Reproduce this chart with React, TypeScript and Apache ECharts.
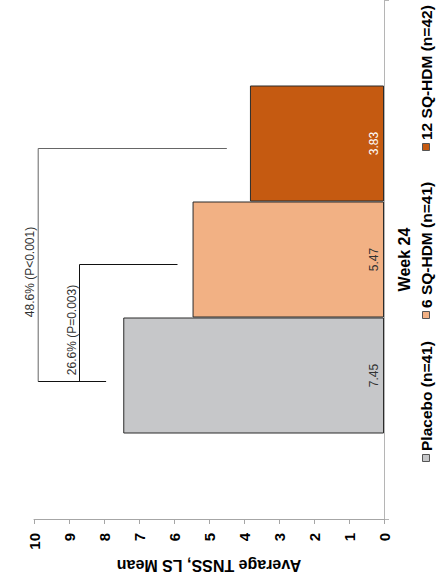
import React, { useEffect, useRef } from 'react';
import * as echarts from 'echarts';

// ---- data ----
const categories = ['Week 24'];
const groupNames = ['Placebo (n=41)', '6 SQ-HDM (n=41)', '12 SQ-HDM (n=42)'];
const lsMeans = [7.45, 5.47, 3.83];
const axisMin = 0;
const axisMax = 10;
const axisInterval = 1;
const axisTitle = 'Average TNSS, LS Mean';

// comparisons vs placebo (group index 0)
const comparisonLabels = ['26.6% (P=0.003)', '48.6% (P<0.001)'];
const comparisonTargets = [1, 2];
const bracketSpineValues = [8.7, 9.88];
const bracketTopEndValues = [5.9, 4.49];
const bracketBaseEndValue = 7.94;

// ---- styles ----
const barColors = ['#c6c7c9', '#f2b184', '#c55a11'];
const labelColors = ['#333333', '#333333', '#ffffff'];
const spineColors = ['#555555', '#666666'];
const FONT = '"Liberation Sans", Arial, Helvetica, sans-serif';
const legendItemY = [458, 315, 147];

export default function App() {
  const ref = useRef<HTMLDivElement>(null);

  useEffect(() => {
    document.body.style.margin = '0';
    document.body.style.overflow = 'hidden';
    const el = ref.current!;
    const chart = echarts.init(el, undefined, { renderer: 'svg' });

    const n = groupNames.length;
    // series are stacked top-to-bottom in series order; placebo must be at the bottom
    const order = groupNames.map((_, i) => n - 1 - i);
    const series = order.map((i) => ({
      type: 'bar',
      name: groupNames[i],
      data: [lsMeans[i]],
      barWidth: 116,
      barGap: '0%',
      itemStyle: { color: barColors[i], borderColor: '#2b2b2b', borderWidth: 1 },
      label: {
        show: true,
        position: 'insideRight',
        distance: 4,
        rotate: 90,
        align: 'center',
        verticalAlign: 'bottom',
        formatter: (p: any) => p.value.toFixed(2),
        color: labelColors[i],
        fontSize: 12,
        fontFamily: FONT,
      },
    }));

    chart.setOption({
      animation: false,
      textStyle: { fontFamily: FONT },
      grid: { left: 34, right: 52, top: -3, bottom: 62, containLabel: false },
      xAxis: {
        type: 'value',
        min: axisMin,
        max: axisMax,
        interval: axisInterval,
        inverse: true,
        position: 'bottom',
        axisLine: { show: true, lineStyle: { color: '#a6a6a6', width: 1 } },
        axisTick: { show: true, length: 5, lineStyle: { color: '#a6a6a6' } },
        splitLine: { show: false },
        axisLabel: {
          rotate: 90,
          margin: 14,
          color: '#000',
          fontWeight: 'bold',
          fontSize: 15,
          fontFamily: FONT,
        },
        name: axisTitle,
        nameLocation: 'middle',
        nameRotate: 180,
        nameGap: 35,
        nameTextStyle: { color: '#000', fontWeight: 'bold', fontSize: 16, fontFamily: FONT },
      },
      yAxis: {
        type: 'category',
        data: categories,
        position: 'right',
        axisLine: { show: true, lineStyle: { color: '#b5b5b5', width: 1 } },
        axisTick: { show: true, length: 5, lineStyle: { color: '#b5b5b5' } },
        axisLabel: {
          rotate: 90,
          margin: 12,
          color: '#000',
          fontWeight: 'bold',
          fontSize: 16,
          fontFamily: FONT,
        },
      },
      series,
    });

    // ---- brackets & legend (positioned from the chart's own layout) ----
    const model = (chart as any).getModel();
    const barCenterY = groupNames.map((_, i) => {
      const seriesIndex = order.indexOf(i);
      const lay = model.getSeriesByIndex(seriesIndex).getData().getItemLayout(0);
      return lay.y + lay.height / 2;
    });
    const px = (v: number) => chart.convertToPixel({ xAxisIndex: 0 }, v) as number;

    const graphics: any[] = [];
    const baseY = barCenterY[0] + 6;
    comparisonLabels.forEach((label, k) => {
      const topY = barCenterY[comparisonTargets[k]] + 5;
      const sx = px(bracketSpineValues[k]);
      graphics.push({
        type: 'polyline',
        shape: { points: [[px(bracketTopEndValues[k]), topY], [sx, topY], [sx, baseY]] },
        style: { stroke: k === 0 ? '#111' : spineColors[k], lineWidth: 1, fill: 'none' },
        silent: true,
      });
      graphics.push({
        type: 'text',
        x: sx - 8,
        y: (topY + baseY) / 2 + 7,
        rotation: Math.PI / 2,
        style: {
          text: label,
          align: 'center',
          verticalAlign: 'middle',
          fill: '#333',
          font: `12px ${FONT}`,
        },
        silent: true,
      });
    });
    const outerSpine = Math.max(...bracketSpineValues);
    graphics.push({
      type: 'line',
      shape: { x1: px(outerSpine), y1: baseY, x2: px(bracketBaseEndValue), y2: baseY },
      style: { stroke: '#111', lineWidth: 1 },
      silent: true,
    });

    groupNames.forEach((name, i) => {
      const y = legendItemY[i];
      graphics.push({
        type: 'rect',
        shape: { x: 422.5, y: y - 3.5, width: 7, height: 7 },
        style: { fill: barColors[i], stroke: '#555', lineWidth: 1 },
        silent: true,
      });
      graphics.push({
        type: 'text',
        x: 426.5,
        y: y - 7,
        rotation: Math.PI / 2,
        style: {
          text: name,
          align: 'left',
          verticalAlign: 'middle',
          fill: '#000',
          font: `bold 15.5px ${FONT}`,
        },
        silent: true,
      });
    });

    chart.setOption({ graphic: graphics });

    return () => chart.dispose();
  }, []);

  return (
    <div
      ref={ref}
      style={{ position: 'absolute', left: 0, top: 0, width: 436, height: 581 }}
    />
  );
}
